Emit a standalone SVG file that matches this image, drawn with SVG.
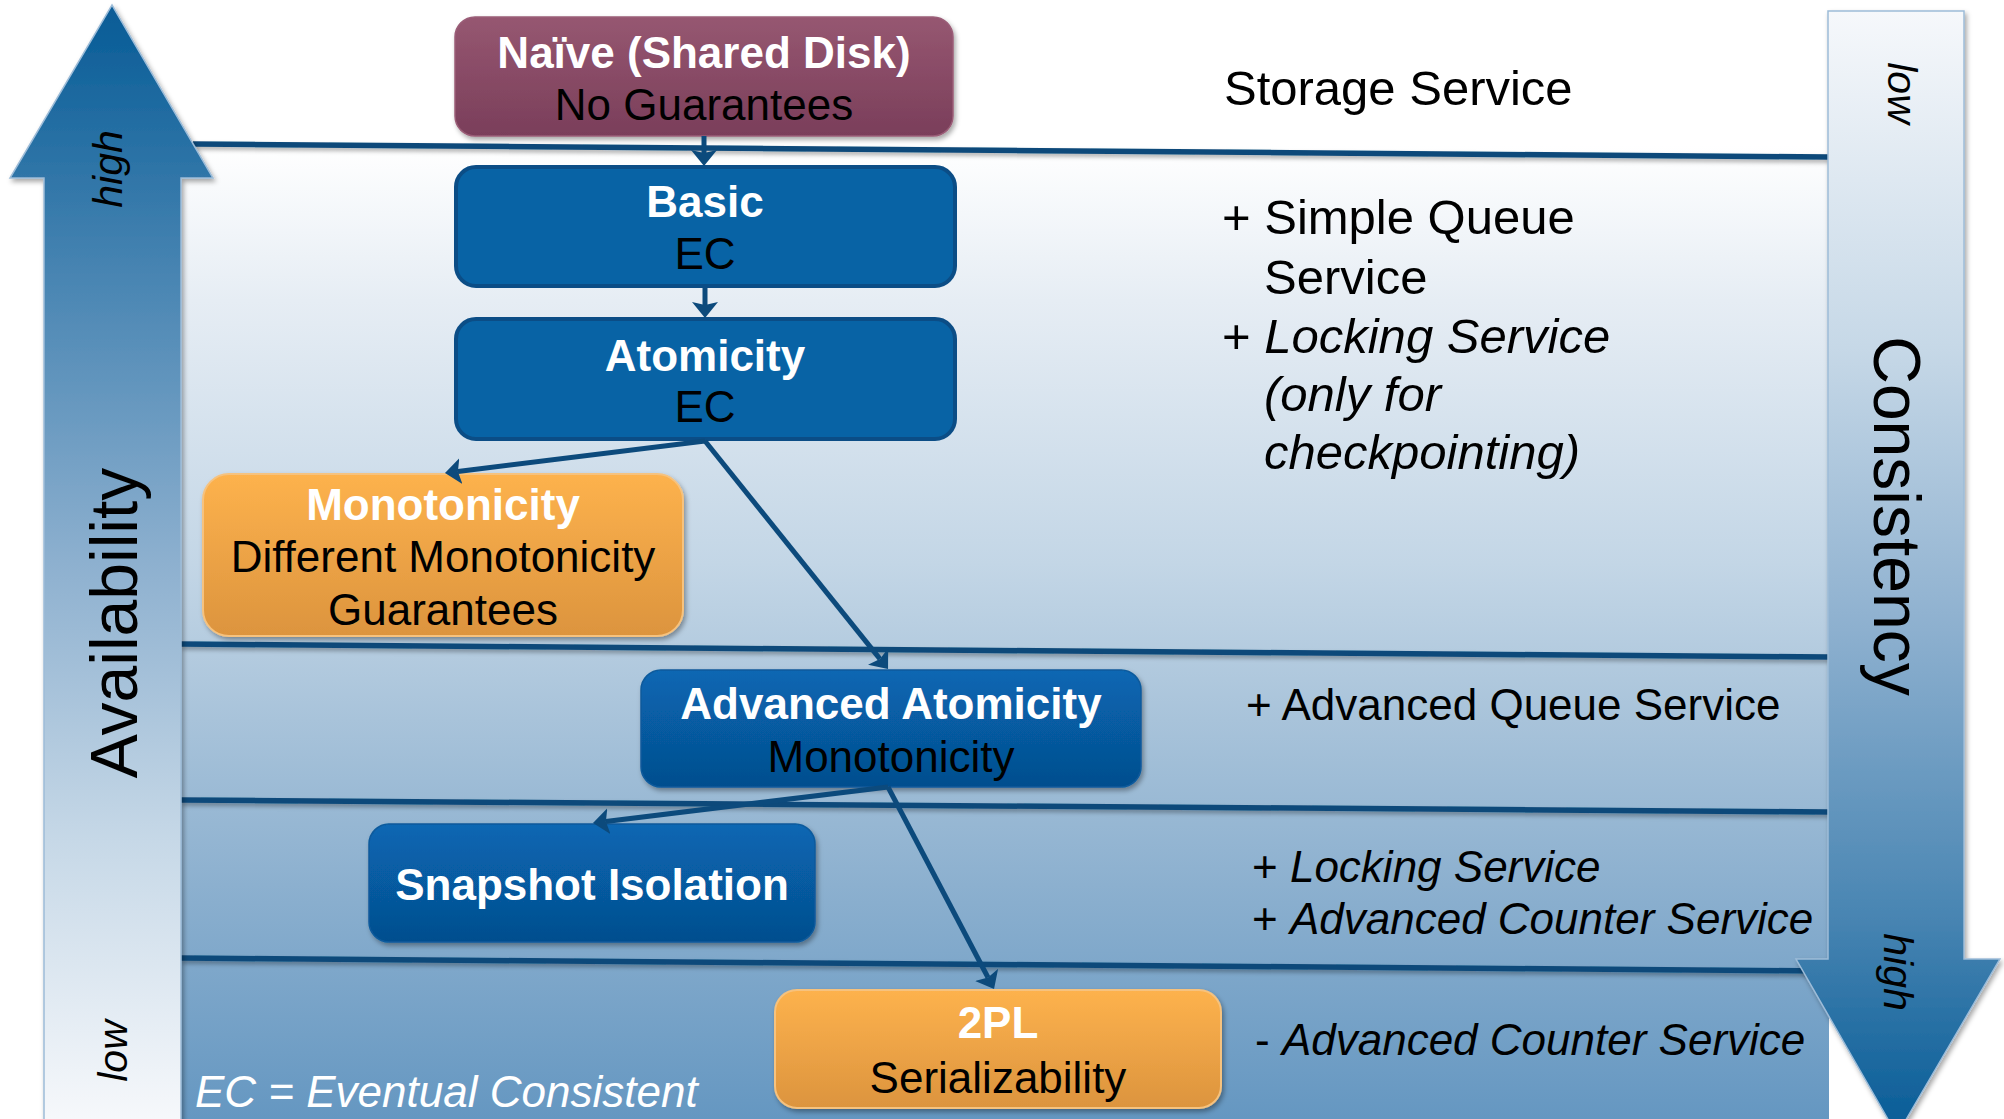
<svg xmlns="http://www.w3.org/2000/svg" width="2004" height="1119" viewBox="0 0 2004 1119">
  <style>
    text { font-family: "Liberation Sans", Arial, Helvetica, sans-serif; }
    .title { font-weight: bold; fill: #ffffff; font-size: 44px; text-anchor: middle; }
    .sub { fill: #000000; font-size: 44px; text-anchor: middle; }
    .note { fill: #000000; font-size: 49px; }
    .note-s { fill: #000000; font-size: 44px; }
    .it { font-style: italic; }
    .axis { fill: #000000; font-size: 66px; text-anchor: middle; }
    .axis-end { fill: #000000; font-size: 41px; font-style: italic; text-anchor: middle; }
    .sep { stroke: #0b4a7a; stroke-width: 5.5; fill: none; }
    .conn { stroke: #0c4a7c; stroke-width: 5; fill: none; marker-end: url(#arrowhead); }
    .box-flat { fill: #0863a5; stroke: #0b4d86; stroke-width: 4; }
    .box-blue { fill: url(#blueGrad); stroke: #0a5a9c; stroke-width: 1.5; }
    .box-orange { fill: url(#orangeGrad); stroke: #f6c27e; stroke-width: 2; }
    .box-mauve { fill: url(#mauveGrad); stroke: #9a5d77; stroke-width: 1.5; }
  </style>
  <defs>
    <linearGradient id="bgGrad" gradientUnits="userSpaceOnUse" x1="0" y1="145" x2="0" y2="1119">
      <stop offset="0" stop-color="#ffffff"/>
      <stop offset="0.16" stop-color="#e6edf4"/>
      <stop offset="0.43" stop-color="#c3d6e6"/>
      <stop offset="0.59" stop-color="#a8c3da"/>
      <stop offset="0.76" stop-color="#8cb0cf"/>
      <stop offset="1" stop-color="#6597c1"/>
    </linearGradient>
    <linearGradient id="upGrad" gradientUnits="userSpaceOnUse" x1="0" y1="5" x2="0" y2="1119">
      <stop offset="0" stop-color="#065b96"/>
      <stop offset="0.25" stop-color="#4a86b3"/>
      <stop offset="0.5" stop-color="#8db0cf"/>
      <stop offset="0.75" stop-color="#c6d8e7"/>
      <stop offset="1" stop-color="#f6f8fb"/>
    </linearGradient>
    <linearGradient id="downGrad" gradientUnits="userSpaceOnUse" x1="0" y1="11" x2="0" y2="1135">
      <stop offset="0" stop-color="#f6f8fb"/>
      <stop offset="0.3" stop-color="#c6d8e7"/>
      <stop offset="0.55" stop-color="#8db0cf"/>
      <stop offset="0.8" stop-color="#4a86b3"/>
      <stop offset="1" stop-color="#065b96"/>
    </linearGradient>
    <linearGradient id="blueGrad" x1="0" y1="0" x2="0" y2="1">
      <stop offset="0" stop-color="#0867b3"/>
      <stop offset="1" stop-color="#054e8e"/>
    </linearGradient>
    <linearGradient id="orangeGrad" x1="0" y1="0" x2="0" y2="1">
      <stop offset="0" stop-color="#fdb24d"/>
      <stop offset="1" stop-color="#dc943e"/>
    </linearGradient>
    <linearGradient id="mauveGrad" x1="0" y1="0" x2="0" y2="1">
      <stop offset="0" stop-color="#965771"/>
      <stop offset="1" stop-color="#7a3e5a"/>
    </linearGradient>
    <filter id="shadow" x="-10%" y="-10%" width="125%" height="130%">
      <feDropShadow dx="2" dy="3" stdDeviation="2.5" flood-color="#000000" flood-opacity="0.35"/>
    </filter>
    <filter id="lineShadow" x="-5%" y="-200%" width="110%" height="500%">
      <feDropShadow dx="1" dy="3" stdDeviation="2" flood-color="#000000" flood-opacity="0.3"/>
    </filter>
    <marker id="arrowhead" viewBox="0 0 16 26" refX="3" refY="13" markerWidth="16" markerHeight="26" markerUnits="userSpaceOnUse" orient="auto">
      <path d="M0,0 L16,13 L0,26 L3,13 Z" fill="#0c4a7c"/>
    </marker>
  </defs>

  <!-- canvas -->
  <rect x="0" y="0" width="2004" height="1119" fill="#ffffff"/>
  <rect x="181" y="145" width="1648" height="974" fill="url(#bgGrad)"/>

  <!-- layer separators -->
  <g id="separators" filter="url(#lineShadow)">
    <line class="sep" x1="193" y1="144" x2="1829" y2="157"/>
    <line class="sep" x1="181" y1="644" x2="1829" y2="657"/>
    <line class="sep" x1="181" y1="800" x2="1829" y2="812"/>
    <line class="sep" x1="181" y1="958" x2="1829" y2="971"/>
  </g>

  <!-- availability axis -->
  <g id="availability-axis">
    <polygon points="112,5 213,178 181,178 181,1125 44,1125 44,178 10,178" fill="url(#upGrad)" stroke="#9dbcd8" stroke-width="1.5" filter="url(#shadow)"/>
    <text class="axis-end" transform="translate(122,169) rotate(-90)">high</text>
    <text class="axis" transform="translate(137,623) rotate(-90)">Availability</text>
    <text class="axis-end" transform="translate(127,1051) rotate(-90)">low</text>
  </g>

  <!-- consistency axis -->
  <g id="consistency-axis">
    <polygon points="1828,11 1964,11 1964,959 2000,959 1897,1135 1796,959 1828,959" fill="url(#downGrad)" stroke="#9dbcd8" stroke-width="1.5" filter="url(#shadow)"/>
    <text class="axis-end" transform="translate(1888,93) rotate(90)">low</text>
    <text class="axis" transform="translate(1874,516) rotate(90)">Consistency</text>
    <text class="axis-end" transform="translate(1884,972) rotate(90)">high</text>
  </g>

  <!-- nodes -->
  <g id="naive">
    <rect class="box-mauve" x="455" y="17" width="498" height="119" rx="20" filter="url(#shadow)"/>
    <text class="title" x="704" y="68">Naïve (Shared Disk)</text>
    <text class="sub" x="704" y="120">No Guarantees</text>
  </g>
  <g id="basic">
    <rect class="box-flat" x="456" y="167" width="499" height="119" rx="20"/>
    <text class="title" x="705" y="217">Basic</text>
    <text class="sub" x="705" y="269">EC</text>
  </g>
  <g id="atomicity">
    <rect class="box-flat" x="456" y="319" width="499" height="120" rx="20"/>
    <text class="title" x="705" y="371">Atomicity</text>
    <text class="sub" x="705" y="422">EC</text>
  </g>
  <g id="monotonicity">
    <rect class="box-orange" x="203" y="474" width="480" height="162" rx="26" filter="url(#shadow)"/>
    <text class="title" x="443" y="520">Monotonicity</text>
    <text class="sub" x="443" y="572">Different Monotonicity</text>
    <text class="sub" x="443" y="625">Guarantees</text>
  </g>
  <g id="advanced-atomicity">
    <rect class="box-blue" x="641" y="670" width="500" height="117" rx="20" filter="url(#shadow)"/>
    <text class="title" x="891" y="719">Advanced Atomicity</text>
    <text class="sub" x="891" y="772">Monotonicity</text>
  </g>
  <g id="snapshot-isolation">
    <rect class="box-blue" x="369" y="824" width="446" height="118" rx="20" filter="url(#shadow)"/>
    <text class="title" x="592" y="900">Snapshot Isolation</text>
  </g>
  <g id="two-phase-locking">
    <rect class="box-orange" x="775" y="990" width="446" height="118" rx="22" filter="url(#shadow)"/>
    <text class="title" x="998" y="1038">2PL</text>
    <text class="sub" x="998" y="1093">Serializability</text>
  </g>

  <!-- connectors -->
  <g id="connectors">
    <line class="conn" x1="704" y1="136" x2="704" y2="153"/>
    <line class="conn" x1="705" y1="288" x2="705" y2="305"/>
    <line class="conn" x1="705" y1="441" x2="457.9" y2="471.4"/>
    <line class="conn" x1="705" y1="441" x2="879.9" y2="658.9"/>
    <line class="conn" x1="888" y1="787" x2="605.9" y2="821.4"/>
    <line class="conn" x1="888" y1="787" x2="988" y2="977.5"/>
  </g>

  <!-- services per layer -->
  <g id="services">
    <text class="note" x="1224" y="105">Storage Service</text>
    <text class="note" x="1222" y="234">+ Simple Queue</text>
    <text class="note" x="1264" y="294">Service</text>
    <text class="note" x="1222" y="353">+ <tspan class="it">Locking Service</tspan></text>
    <text class="note it" x="1264" y="411">(only for</text>
    <text class="note it" x="1264" y="469">checkpointing)</text>
    <text class="note-s" x="1246" y="720">+ Advanced Queue Service</text>
    <text class="note-s" x="1252" y="882">+ <tspan class="it">Locking Service</tspan></text>
    <text class="note-s" x="1252" y="934">+ <tspan class="it">Advanced Counter Service</tspan></text>
    <text class="note-s" x="1255" y="1055">- <tspan class="it">Advanced Counter Service</tspan></text>
  </g>

  <!-- legend -->
  <text class="note-s it" x="195" y="1107" style="fill:#ffffff">EC = Eventual Consistent</text>
</svg>
